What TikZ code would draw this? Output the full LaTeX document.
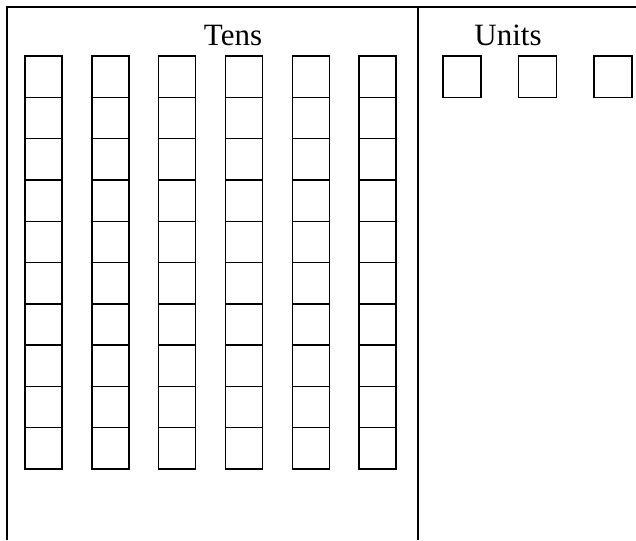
\documentclass[tikz,border=0pt]{standalone}
\usepackage{fontspec}
\setmainfont{Liberation Serif}
\usepackage{tikz}
\usetikzlibrary{positioning}

\begin{document}
\begin{tikzpicture}[x=1pt, y=-1pt,
    font=\fontsize{31}{31}\selectfont,
    frame/.style={draw=black, line width=1.6pt},
    cell/.style={draw=black, line width=1.4pt, minimum width=37pt,
                 minimum height=41.3pt, inner sep=0pt, fill=white},
    unitcell/.style={cell, minimum width=38pt}]
  \useasboundingbox (0,0) rectangle (636,540);
  % frame and divider
  \draw[frame] (7,540) -- (7,7) -- (636,7);
  \draw[frame] (418,7) -- (418,540);
  % headings
  \node[anchor=base, inner sep=0pt] (tens) at (233,46) {Tens};
  \node[anchor=base, inner sep=0pt] (units) at (508,46) {Units};
  % ten-rods
  \foreach \c in {0,...,5}
    \foreach \r in {0,...,9}
      \node[cell] (t\c-\r) at (43.5+66.8*\c, 76.65+41.3*\r) {};
  % single units
  \foreach \i in {0,1,2}
    \node[unitcell] (u\i) at (462+75.5*\i, 76.65) {};
\end{tikzpicture}
\end{document}
